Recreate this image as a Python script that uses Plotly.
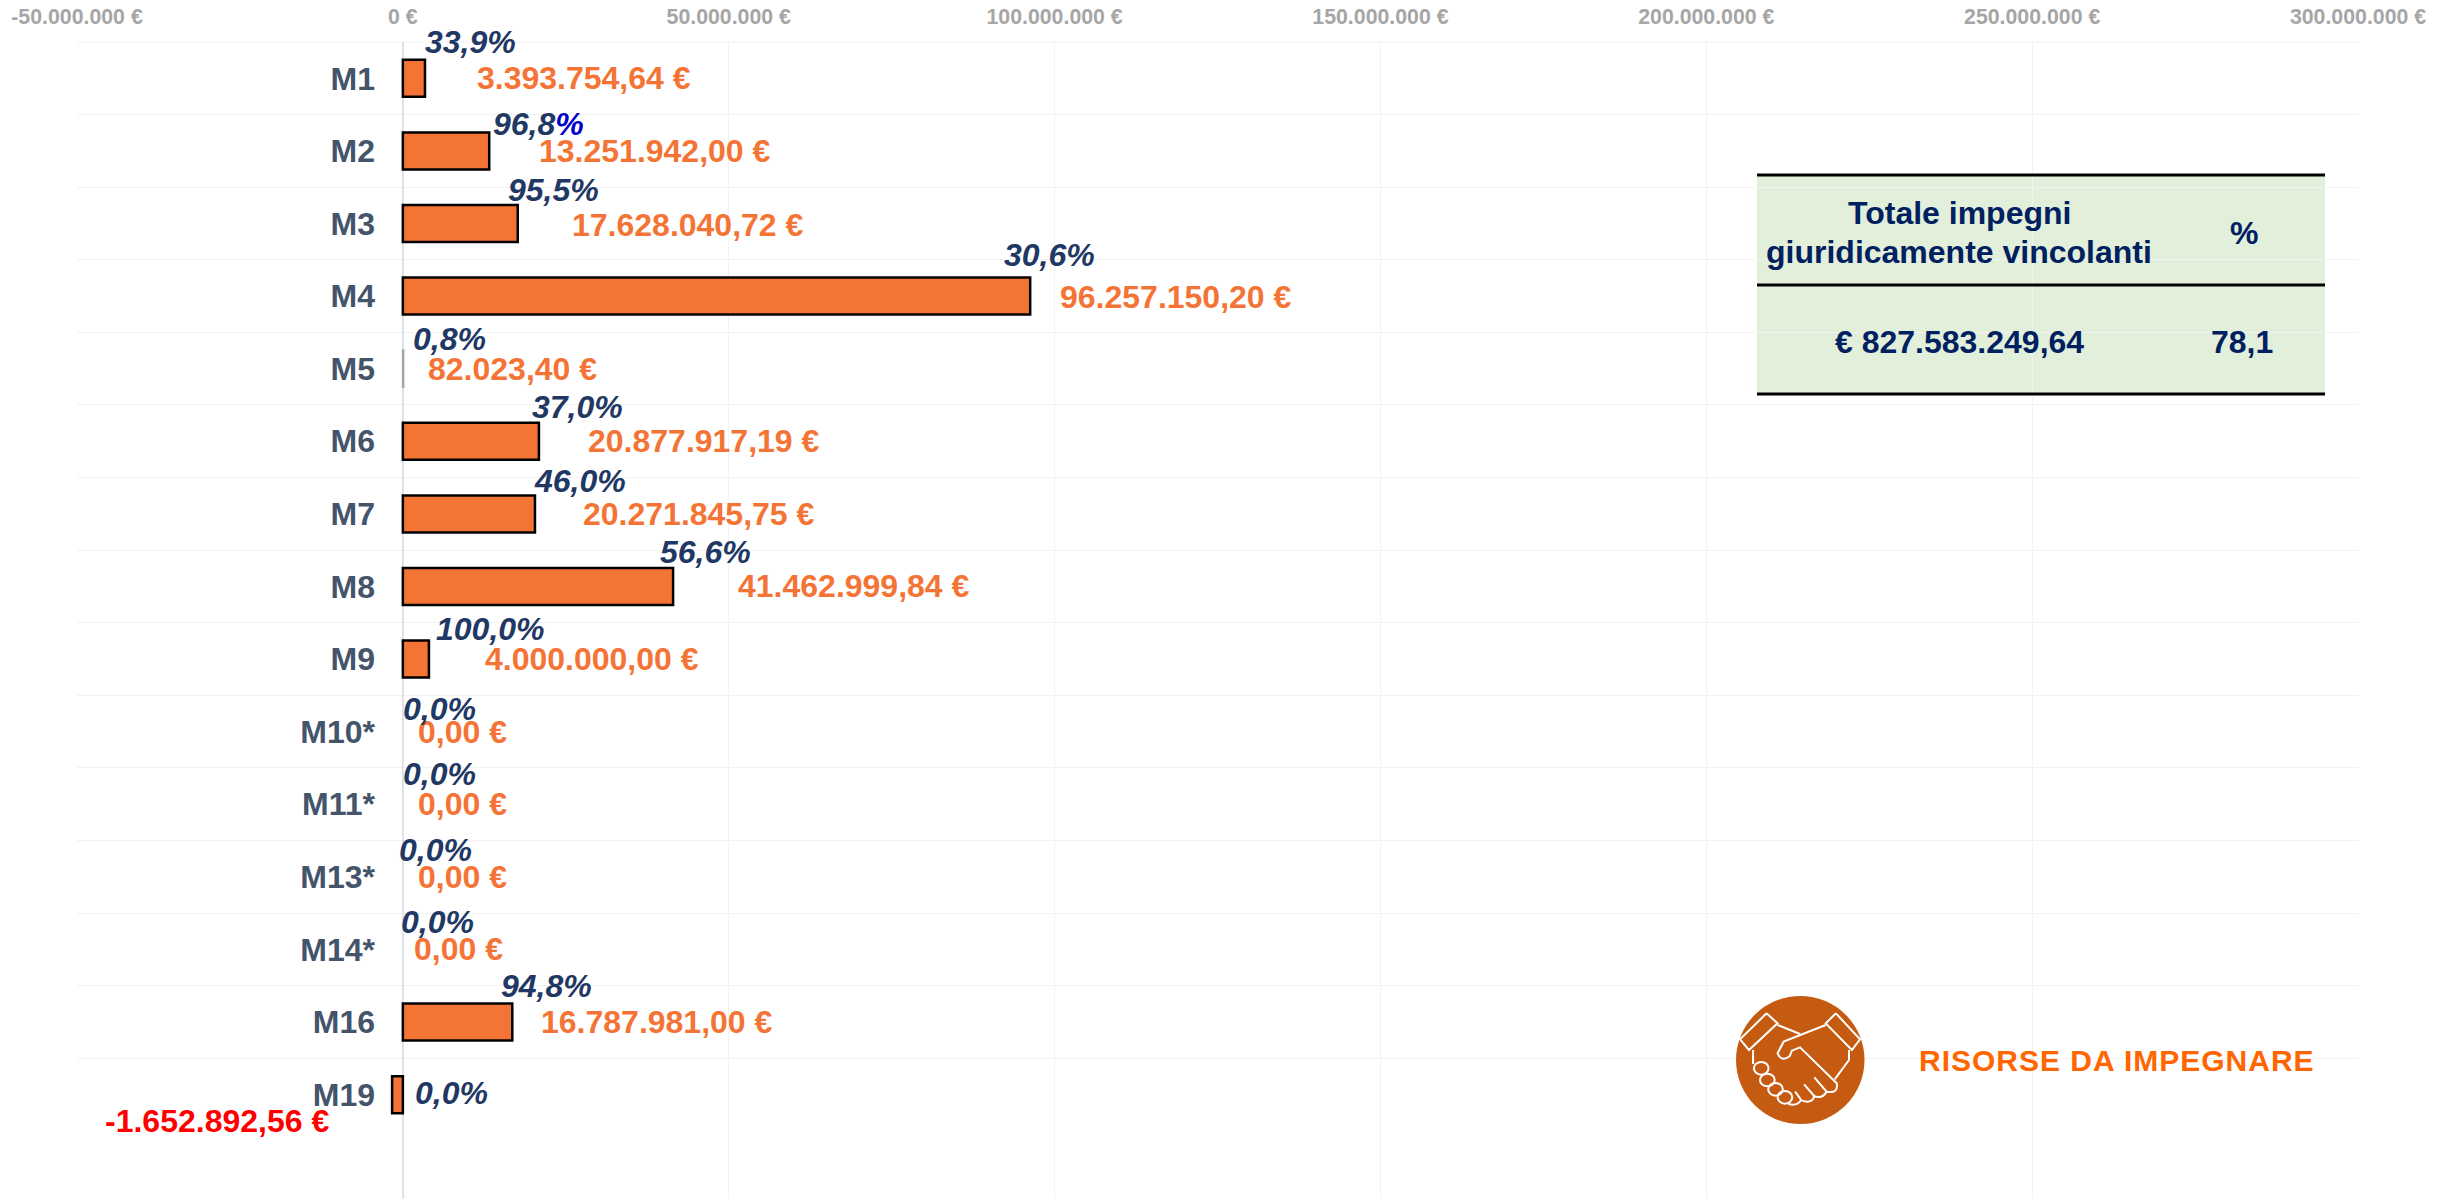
import plotly.graph_objects as go

W, H = 2453, 1199
FONT = "Liberation Sans"

# ---- data ----
measures = ["M1", "M2", "M3", "M4", "M5", "M6", "M7", "M8", "M9", "M10*", "M11*", "M13*", "M14*", "M16", "M19"]
commitments = [3393754.64, 13251942.00, 17628040.72, 96257150.20, 82023.40, 20877917.19, 20271845.75,
               41462999.84, 4000000.00, 0, 0, 0, 0, 16787981.00, -1652892.56]
percent_labels = ["33,9", "96,8", "95,5", "30,6", "0,8", "37,0", "46,0", "56,6", "100,0",
                  "0,0", "0,0", "0,0", "0,0", "94,8", "0,0"]
axis_ticks = [-50000000, 0, 50000000, 100000000, 150000000, 200000000, 250000000, 300000000]
axis_tick_labels = ["-50.000.000 €", "0 €", "50.000.000 €", "100.000.000 €", "150.000.000 €",
                    "200.000.000 €", "250.000.000 €", "300.000.000 €"]
table_header = ["Totale impegni", "giuridicamente vincolanti", "%"]
table_values = ["€ 827.583.249,64", "78,1"]
note_text = "RISORSE DA IMPEGNARE"

# ---- label placement (pixels from the end of each bar) ----
value_dx = [50, 48, 52, 28, 23, 47, 46, 63, 54, 13, 13, 13, 9, 27, -289]
value_dy = [0, 0, -1, -1, 0, 0, 0, 0, 0, 0, 0, 0, 0, 0, -26]
pct_dx = [-2, 2, -12, -28, 8, -9, -3, -15, 5, -2, -2, -6, -4, -13, 21]
pct_dy = [36, 27, 34, 41, 30, 34, 33, 34, 30, 23, 30, 27, 27, 36, 2]

ORANGE = "#f47436"
NAVY = "#1f3864"
TABLE_NAVY = "#002060"
GRID = "#f2f2f2"


def euro(v):
    s = f"{v:,.2f}".replace(",", "_").replace(".", ",").replace("_", ".")
    return s + " €"


def px(x):
    return x / W


def py(y):
    return 1 - y / H


line_colors = []
line_widths = []
for v in commitments:
    if v == 0:
        line_colors.append("rgba(0,0,0,0)")
        line_widths.append(0)
    elif abs(v) < 100000:
        line_colors.append("#a6a6a6")
        line_widths.append(2)
    else:
        line_colors.append("#000000")
        line_widths.append(2.5)

fig = go.Figure(go.Bar(
    x=commitments, y=measures, orientation="h", width=0.51,
    marker=dict(color=ORANGE, line=dict(color=line_colors, width=line_widths)),
    hoverinfo="x+y",
))

annotations = []
for m, v, p, dx, dy, pdx, pdy in zip(measures, commitments, percent_labels, value_dx, value_dy, pct_dx, pct_dy):
    annotations.append(dict(
        x=v, y=m, xref="x", yref="y", text=f"<b>{euro(v)}</b>", showarrow=False,
        xanchor="left", yanchor="middle", xshift=dx, yshift=dy,
        font=dict(family=FONT, size=32, color="#ff0000" if v < 0 else ORANGE),
    ))
    sign = "%"
    if m == "M2":
        sign = '<span style="color:#0000c8">%</span>'
    annotations.append(dict(
        x=v, y=m, xref="x", yref="y", text=f"<b><i>{p}{sign}</i></b>", showarrow=False,
        xanchor="left", yanchor="middle", xshift=pdx, yshift=pdy,
        font=dict(family=FONT, size=32, color=NAVY),
    ))


def page_text(text, x, y, size, color, anchor="center"):
    annotations.append(dict(
        x=px(x), y=py(y), xref="paper", yref="paper", text=f"<b>{text}</b>", showarrow=False,
        xanchor=anchor, yanchor="middle", font=dict(family=FONT, size=size, color=color),
    ))


page_text(table_header[0], 1959, 213, 32, TABLE_NAVY)
page_text(table_header[1], 1959, 252, 32, TABLE_NAVY)
page_text(table_header[2], 2244, 233, 32, TABLE_NAVY)
page_text(table_values[0], 1959, 342, 32, TABLE_NAVY)
page_text(table_values[1], 2242, 342, 32, TABLE_NAVY)
page_text(f'<span style="letter-spacing:1px">{note_text}</span>', 1917, 1060, 30, "#ff6600", anchor="left")

shapes = [
    dict(type="rect", xref="paper", yref="paper", x0=px(1757), x1=px(2325), y0=py(175), y1=py(394),
         fillcolor="#e2efda", line=dict(width=0), layer="below"),
    dict(type="line", xref="paper", yref="paper", x0=px(77), x1=px(2358), y0=py(42), y1=py(42),
         line=dict(color=GRID, width=1), layer="below"),
]
for yy in (175, 285, 394):
    shapes.append(dict(type="line", xref="paper", yref="paper", x0=px(1757), x1=px(2325), y0=py(yy), y1=py(yy),
                       line=dict(color="#000000", width=3)))

# handshake icon: authored in a 640x180 box with x stretched 2.45 and y stretched 3
ix = lambda x: px(1700 + x / 2.45)
iy = lambda y: py(970 + y / 3)


def path(points):
    out = []
    for i, item in enumerate(points):
        if len(item) == 2:
            out.append(("M" if i == 0 else "L") + f"{ix(item[0]):.5f},{iy(item[1]):.5f}")
        else:
            out.append(f"Q{ix(item[0]):.5f},{iy(item[1]):.5f} {ix(item[2]):.5f},{iy(item[3]):.5f}")
    return " ".join(out)


shapes.append(dict(type="circle", xref="paper", yref="paper", x0=px(1736), x1=px(1864.5), y0=py(996), y1=py(1124),
                   fillcolor="#c55a11", line=dict(width=0)))
icon_lines = [
    [(163, 130), (190, 160), (120, 240), (98, 208), (163, 130)],
    [(333, 130), (392, 208), (372, 240), (308, 160), (333, 130)],
    [(190, 165), (245, 192)],
    [(308, 165), (205, 215), (190, 250), (200, 278, 220, 258), (225, 242), (245, 232), (335, 340),
     (340, 372, 310, 365), (280, 322)],
    [(365, 240), (365, 270), (330, 328)],
    [(130, 240), (130, 282)],
    [(233, 365), (248, 390), (235, 412, 215, 400)],
    [(255, 343), (280, 378), (275, 402, 250, 392)],
    [(310, 365), (300, 388, 278, 378)],
]
for pts in icon_lines:
    shapes.append(dict(type="path", xref="paper", yref="paper", path=path(pts),
                       line=dict(color="#ffffff", width=2)))
for cx, cy in [(150, 295), (165, 330), (185, 358), (208, 382)]:
    shapes.append(dict(type="circle", xref="paper", yref="paper",
                       x0=ix(cx - 18), x1=ix(cx + 18), y0=iy(cy - 19), y1=iy(cy + 19),
                       line=dict(color="#ffffff", width=2)))

fig.update_layout(
    width=W, height=H, margin=dict(l=0, r=0, t=0, b=0, autoexpand=False),
    paper_bgcolor="#ffffff", plot_bgcolor="#ffffff", showlegend=False,
    annotations=annotations, shapes=shapes,
    xaxis=dict(
        domain=[px(77), px(2358)], range=[-50000000, 300000000], side="top",
        tickmode="array", tickvals=axis_ticks, ticktext=axis_tick_labels,
        tickfont=dict(family=FONT, size=21.3, color="#a6a6a6", weight="bold"),
        showgrid=True, gridcolor=GRID, gridwidth=1,
        zeroline=True, zerolinecolor="#dde3ec", zerolinewidth=2,
        showline=False, ticks="outside", ticklen=8, tickcolor="rgba(0,0,0,0)",
    ),
    yaxis=dict(
        domain=[0, py(42)], type="category", categoryorder="array", categoryarray=measures,
        range=[15.437, -0.5], anchor="free", position=px(403), tickson="boundaries",
        tickfont=dict(family=FONT, size=32, color="#44546a", weight="bold"),
        showgrid=True, gridcolor=GRID, gridwidth=1, zeroline=False, showline=False,
        ticks="", ticklabelstandoff=28,
    ),
)

fig.write_html("out.html", post_script="document.body.style.margin='0';",
               config=dict(displayModeBar=False))
